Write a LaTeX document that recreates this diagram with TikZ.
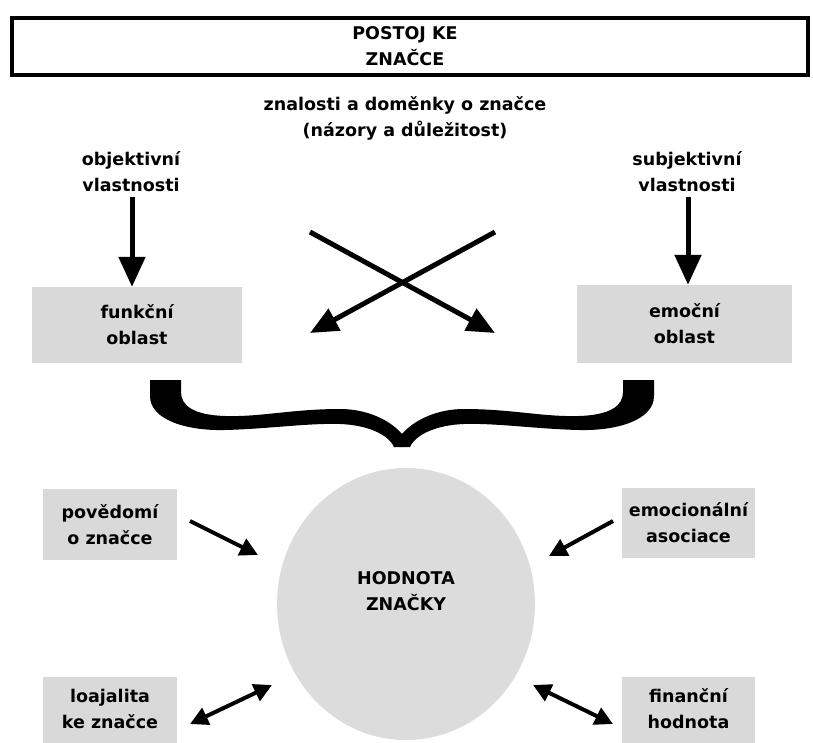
\documentclass[tikz,border=0pt]{standalone}
\usepackage{fontspec}
\setmainfont{DejaVu Sans}
\usetikzlibrary{arrows.meta,shapes.geometric}
\definecolor{boxgray}{HTML}{D9D9D9}
\definecolor{ovalgray}{HTML}{DCDCDC}
\begin{document}
\begin{tikzpicture}[x=1pt,y=-1pt,
  every node/.style={font=\bfseries\fontsize{17.5}{26}\selectfont, align=center, inner sep=0pt},
  graybox/.style n args={2}{fill=boxgray, minimum width=#1, minimum height=#2},
  bigarrow/.style={line width=5pt, -{Triangle[length=30pt,width=26pt]}},
  crossarrow/.style={line width=5pt, -{Triangle[length=28pt,width=24pt]}},
  midarrow/.style={line width=4pt, -{Triangle[length=18pt,width=18pt]}},
  dblarrow/.style={line width=4pt, {Triangle[length=18pt,width=18pt]}-{Triangle[length=18pt,width=18pt]}}]
\useasboundingbox (0,0) rectangle (813,742);

% heading frame
\node[draw, line width=4pt, minimum width=796pt, minimum height=57pt] (title) at (410,46) {};
\node (titletext) at (405,46) {POSTOJ KE\\ZNAČCE};

\node (know) at (405,118) {znalosti a doměnky o značce\\(názory a důležitost)};

% two kinds of attributes
\node (obj) at (131,172) {objektivní\\vlastnosti};
\node (subj) at (687,172) {subjektivní\\vlastnosti};

\node[graybox={210pt}{76pt}] (funk) at (137,325) {funkční\\oblast};
\node[graybox={215pt}{78pt}] (emo) at (684.5,324) {emoční\\oblast};

\draw[bigarrow] ([yshift=-5pt]obj.south -| 132,0) -- (funk.north -| 132,0);
\draw[bigarrow] ([yshift=-5pt]subj.south -| 688,0) -- (emo.north -| 688,0);

% crossing arrows
\coordinate (xl) at (310,232);
\coordinate (xr) at (495,232);
\coordinate (xbl) at (310,333);
\coordinate (xbr) at (495,333);
\draw[crossarrow] (xl) -- (xbr);
\draw[crossarrow] (xr) -- (xbl);

% under-brace
\begin{scope}
  \foreach \s in {1,-1}{
    \begin{scope}[shift={(402,0)}, xscale=\s]
      \fill (-252,380) -- (-252,396)
        .. controls (-252,420) and (-215,431) .. (-177,430)
        .. controls (-135,429) and (-95,423) .. (-62,424)
        .. controls (-35,425) and (-14,434) .. (-8,447)
        -- (0.5,447) -- (0.5,434) -- (0,434)
        .. controls (-12,420) and (-35,409) .. (-62,409)
        .. controls (-110,409) and (-140,417) .. (-177,416)
        .. controls (-208,415) and (-221,406) .. (-221,392)
        -- (-221,380) -- cycle;
    \end{scope}
  }
\end{scope}

% brand value
\node[ellipse, fill=ovalgray, minimum width=258pt, minimum height=272pt] (val) at (406,604) {};
\node (valtext) at (406,591) {HODNOTA\\ZNAČKY};

\node[graybox={134pt}{71pt}] (pov) at (110,524.5) {povědomí\\o značce};
\node[graybox={133pt}{70pt}] (asoc) at (688.5,523) {emocionální\\asociace};
\node[graybox={134pt}{70pt}] (loaj) at (110,712) {};
\node (loajtext) at (110,709) {loajalita\\ke značce};
\node[graybox={133pt}{70pt}] (fin) at (688.5,712) {};
\node (fintext) at (688.5,709) {finanční\\hodnota};

\coordinate (pa) at (190,521);
\coordinate (pb) at (258,555);
\coordinate (ea) at (613,521);
\coordinate (eb) at (549,556);
\coordinate (la) at (190,724);
\coordinate (lb) at (272,685);
\coordinate (fa) at (533,685);
\coordinate (fb) at (613,724);
\draw[midarrow] (pa) -- (pb);
\draw[midarrow] (ea) -- (eb);
\draw[dblarrow] (la) -- (lb);
\draw[dblarrow] (fa) -- (fb);
\end{tikzpicture}
\end{document}
